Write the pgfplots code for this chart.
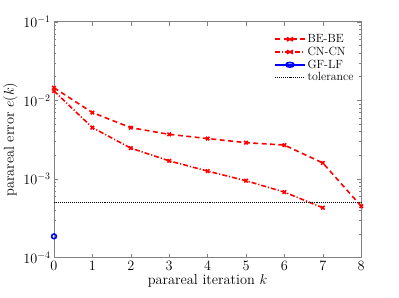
\documentclass[border=0pt]{standalone}
\usepackage{pgfplots}
\pgfplotsset{compat=1.18}
\definecolor{axgray}{RGB}{130,130,130}
\begin{document}
\begin{tikzpicture}
\begin{axis}[
    scale only axis,
    width=309bp, height=237bp,
    ymode=log,
    xmin=0, xmax=8,
    ymin=1e-4, ymax=1e-1,
    xtick={0,1,...,8},
    ytick={1e-4,1e-3,1e-2,1e-1},
    tick align=inside,
    axis line style={axgray, line width=0.8pt},
    every tick/.style={axgray, line width=0.6pt},
    major tick length=4bp,
    minor tick length=2.5bp,
    xlabel={parareal iteration $k$},
    ylabel={parareal error $e(k)$},
    label style={font=\fontsize{14.5}{17}\selectfont},
    tick label style={font=\fontsize{14}{16}\selectfont},
    xlabel style={yshift=2bp},
    ylabel style={yshift=-1bp},
    legend style={draw=none, fill=white, at={(0.985,0.96)}, anchor=north east,
        font=\fontsize{12}{13}\selectfont, row sep=-1pt, inner sep=1pt},
    legend image post style={xscale=1.75},
    legend cell align=left,
    clip=false,
]
\addplot[red, line width=1.6pt, dash pattern=on 5pt off 3.5pt, mark=x, mark size=2.5pt, mark options={solid, line width=1.6pt}] coordinates {
    (0,0.0145) (1,0.0070) (2,0.0045) (3,0.0037) (4,0.00327) (5,0.0029) (6,0.0027) (7,0.0016) (8,0.00045)
};
\addplot[red, line width=1.6pt, dash pattern=on 5pt off 2pt on 1.2pt off 2pt, mark=x, mark size=2.5pt, mark options={solid, line width=1.6pt}] coordinates {
    (0,0.0132) (1,0.0045) (2,0.00247) (3,0.0017) (4,0.00126) (5,0.00095) (6,0.00068) (7,0.00043)
};
\addplot[blue, line width=1.6pt, mark=o, mark size=2.4pt, mark options={solid, line width=1.6pt}] coordinates {
    (0,0.000186)
};
\addplot[black, line width=1.3pt, dash pattern=on 1pt off 1pt] coordinates {
    (0,5e-4) (8,5e-4)
};
\legend{BE-BE, CN-CN, GF-LF, tolerance}
\end{axis}
\useasboundingbox ([xshift=-52bp,yshift=-40bp]current axis.south west) rectangle ([xshift=38bp,yshift=22bp]current axis.north east);
\end{tikzpicture}
\end{document}
